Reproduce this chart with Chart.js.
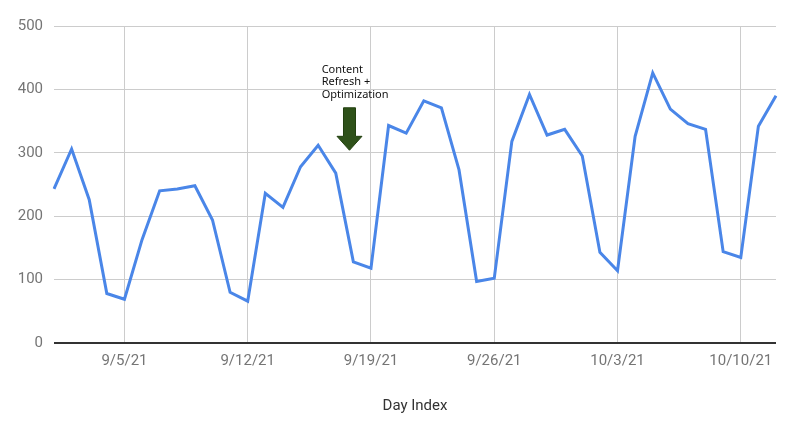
<!DOCTYPE html>
<html>
<head>
<meta charset="utf-8">
<script src="https://cdn.jsdelivr.net/npm/chart.js@4"></script>
<style>
  html, body { margin: 0; padding: 0; background: #fff; }
  #wrap { width: 803px; height: 434px; position: relative; }
</style>
</head>
<body>
<div id="wrap"><canvas id="chart"></canvas></div>
<script>
// one point per day, 9/1/21 .. 10/12/21
const days = [
  '9/1/21', '9/2/21', '9/3/21', '9/4/21', '9/5/21', '9/6/21', '9/7/21',
  '9/8/21', '9/9/21', '9/10/21', '9/11/21', '9/12/21', '9/13/21', '9/14/21',
  '9/15/21', '9/16/21', '9/17/21', '9/18/21', '9/19/21', '9/20/21', '9/21/21',
  '9/22/21', '9/23/21', '9/24/21', '9/25/21', '9/26/21', '9/27/21', '9/28/21',
  '9/29/21', '9/30/21', '10/1/21', '10/2/21', '10/3/21', '10/4/21', '10/5/21',
  '10/6/21', '10/7/21', '10/8/21', '10/9/21', '10/10/21', '10/11/21', '10/12/21'
];
const visits = [
  243, 306, 226, 78, 69, 163, 240,
  243, 248, 194, 80, 66, 236, 214,
  278, 312, 268, 128, 118, 343, 331,
  382, 371, 273, 97, 102, 318, 392,
  328, 337, 295, 143, 114, 326, 426,
  369, 346, 337, 144, 135, 342, 390
];
const weekTicks = ['9/5/21', '9/12/21', '9/19/21', '9/26/21', '10/3/21', '10/10/21'];
const yTicks = [0, 100, 200, 300, 400, 500];

const noteLines = ['Content', 'Refresh +', 'Optimization'];

// annotation drawn over the plot, placed in data units
const notePlugin = {
  id: 'note',
  afterDatasetsDraw(chart) {
    const { ctx, scales: { x, y } } = chart;
    ctx.save();
    // text
    ctx.fillStyle = '#111';
    ctx.font = '11px "Noto Sans", Lato, sans-serif';
    ctx.textBaseline = 'middle';
    ctx.textAlign = 'left';
    const tx = x.getPixelForValue(15.2);
    [431, 411.5, 392].forEach((v, i) => ctx.fillText(noteLines[i], tx, y.getPixelForValue(v)));

    // arrow
    const cx = x.getPixelForValue(16.78);
    const top = y.getPixelForValue(371);
    const neck = y.getPixelForValue(326);
    const tip = y.getPixelForValue(304);
    ctx.beginPath();
    ctx.moveTo(cx - 6, top);
    ctx.lineTo(cx + 6, top);
    ctx.lineTo(cx + 6, neck);
    ctx.lineTo(cx + 12.5, neck);
    ctx.lineTo(cx, tip);
    ctx.lineTo(cx - 12.5, neck);
    ctx.lineTo(cx - 6, neck);
    ctx.closePath();
    ctx.fillStyle = '#2e5119';
    ctx.fill();
    ctx.strokeStyle = '#22400f';
    ctx.lineWidth = 1;
    ctx.stroke();
    ctx.restore();
  }
};

new Chart(document.getElementById('chart'), {
  type: 'line',
  data: {
    labels: days,
    datasets: [{
      data: visits,
      borderColor: '#4a86e8',
      borderWidth: 3,
      pointRadius: 0,
      tension: 0,
      fill: false
    }]
  },
  options: {
    responsive: true,
    maintainAspectRatio: false,
    animation: false,
    layout: { padding: { top: 26, right: 27, left: 0, bottom: 0 } },
    plugins: {
      legend: { display: false },
      tooltip: { enabled: false }
    },
    scales: {
      x: {
        offset: false,
        afterFit: s => { s.height = 91; },
        border: { display: false },
        grid: {
          drawTicks: false,
          color: c => weekTicks.includes(days[c.index]) ? '#cccccc' : 'rgba(0,0,0,0)',
          lineWidth: 1
        },
        ticks: {
          autoSkip: false,
          maxRotation: 0,
          padding: 9,
          color: '#757575',
          font: { family: 'Roboto', size: 15 },
          callback: (v, i) => weekTicks.includes(days[i]) ? days[i] : ''
        },
        title: {
          display: true,
          text: 'Day Index',
          color: '#333',
          font: { family: 'Roboto', size: 15 },
          padding: { top: 0, bottom: 19 }
        }
      },
      y: {
        min: 0,
        max: 500,
        afterFit: s => { s.width = 54; },
        afterBuildTicks: s => { s.ticks = yTicks.map(v => ({ value: v })); },
        border: { display: false },
        grid: {
          drawTicks: false,
          color: c => c.tick && c.tick.value === 0 ? '#333333' : '#cccccc',
          lineWidth: c => c.tick && c.tick.value === 0 ? 2 : 1
        },
        ticks: {
          padding: 11,
          color: '#757575',
          font: { family: 'Roboto', size: 15 }
        }
      }
    }
  },
  plugins: [notePlugin]
});
</script>
</body>
</html>
